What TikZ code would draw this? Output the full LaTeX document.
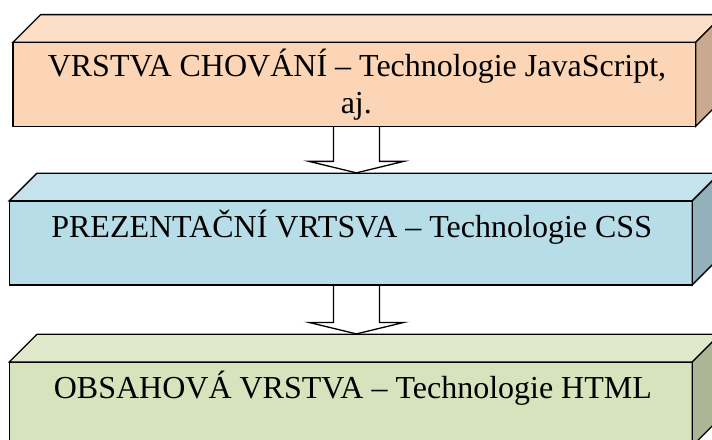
\documentclass[tikz,border=0pt]{standalone}
\usepackage{fontspec}
\setmainfont{Liberation Serif}
\usetikzlibrary{calc}

\definecolor{behFront}{RGB}{251,213,181}
\definecolor{behTop}{RGB}{252,222,199}
\definecolor{behSide}{RGB}{201,170,145}
\definecolor{preFront}{RGB}{183,221,232}
\definecolor{preTop}{RGB}{197,227,236}
\definecolor{preSide}{RGB}{146,177,186}
\definecolor{conFront}{RGB}{215,227,188}
\definecolor{conTop}{RGB}{224,233,204}
\definecolor{conSide}{RGB}{172,182,150}

\pgfdeclarelayer{behind}
\pgfsetlayers{behind,main}

\tikzset{
  frontface/.style={draw=black, line width=1.3pt, inner sep=0pt, outer sep=0pt,
    minimum width=683pt, minimum height=84pt},
  sideface/.style={draw=black, line width=1.3pt, line join=miter},
  layertext/.style={font=\fontsize{32}{37}\selectfont, inner sep=0pt, anchor=base},
  hollowarrow/.style={draw=black, fill=white, line width=1.3pt, line join=miter}
}

% top and right faces of a block whose front face is node #1
\newcommand\blockfaces[3]{%
  \draw[sideface, fill=#2] (#1.north west) -- ++(27.7,-27.7)
    -- ($(#1.north east)+(27.7,-27.7)$) -- (#1.north east) -- cycle;
  \draw[sideface, fill=#3] (#1.north east) -- ++(27.7,-27.7)
    -- ($(#1.south east)+(27.7,-27.7)$) -- (#1.south east) -- cycle;
}

% hollow down arrow from the bottom of node #1 to the top face of node #2
\newcommand\layerarrow[2]{%
  \coordinate (tip) at ($(ax |- #2.north)+(0,-28)$);
  \draw[hollowarrow] ($(ax |- #1.south)+(-23,0)$)
    -- ($(tip)+(-23,-11.5)$) -- ($(tip)+(-47.5,-11.5)$) -- (tip)
    -- ($(tip)+(47.5,-11.5)$) -- ($(tip)+(23,-11.5)$)
    -- ($(ax |- #1.south)+(23,0)$);
}

\begin{document}
\begin{tikzpicture}[x=1pt,y=-1pt]
\useasboundingbox (0,0) rectangle (712,439);
\clip (0,0) rectangle (712,439);

\coordinate (ax) at (356.4,0);

% behaviour layer
\node[frontface, fill=behFront, minimum width=682.7pt] (b1) at (354.35,84.3) {};
\blockfaces{b1}{behTop}{behSide}
\node[layertext] (t1a) at (357,76) {VRSTVA CHOVÁNÍ – Technologie JavaScript,};
\node[layertext] (t1b) at (356.3,113.3) {aj.};

% presentation layer
\node[frontface, fill=preFront] (b2) at (350.8,242.85) {};
\blockfaces{b2}{preTop}{preSide}
\node[layertext] (t2) at (351.7,237.3) {PREZENTAČNÍ VRTSVA – Technologie CSS};

% content layer
\node[frontface, fill=conFront] (b3) at (350.8,403.9) {};
\blockfaces{b3}{conTop}{conSide}
\node[layertext] (t3) at (352.9,398.3) {OBSAHOVÁ VRSTVA – Technologie HTML};

\begin{pgfonlayer}{behind}
  \layerarrow{b1}{b2}
  \layerarrow{b2}{b3}
\end{pgfonlayer}
\end{tikzpicture}
\end{document}
